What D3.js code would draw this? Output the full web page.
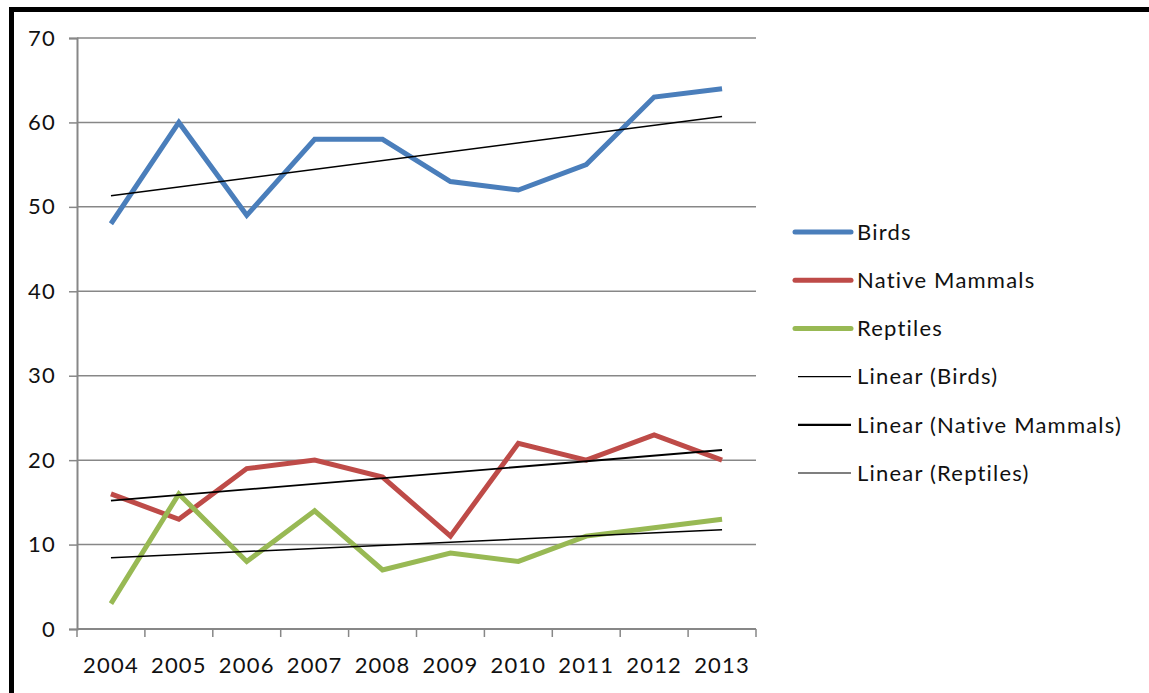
<!DOCTYPE html>
<html>
<head>
<meta charset="utf-8">
<script src="https://cdn.jsdelivr.net/npm/d3@7"></script>
<style>
  html, body { margin: 0; padding: 0; background: #fff; }
  svg { display: block; }
  text { font-family: Lato, "Open Sans", sans-serif; fill: #111; letter-spacing: 1.2px; }
</style>
</head>
<body>
<svg id="chart" width="1149" height="693"></svg>
<script>
// Yearly sightings per group
const years = ["2004", "2005", "2006", "2007", "2008", "2009", "2010", "2011", "2012", "2013"];
const birds = [48, 60, 49, 58, 58, 53, 52, 55, 63, 64];
const nativeMammals = [16, 13, 19, 20, 18, 11, 22, 20, 23, 20];
const reptiles = [3, 16, 8, 14, 7, 9, 8, 11, 12, 13];
const yTicks = [0, 10, 20, 30, 40, 50, 60, 70];

const seriesNames = ["Birds", "Native Mammals", "Reptiles"];
const seriesColors = ["#4a7ebb", "#be4b48", "#98b954"];
const seriesValues = [birds, nativeMammals, reptiles];

const svg = d3.select("#chart");
const W = 1149, H = 693;
const fontSize = 22;

// Frame edges (top and left)
svg.append("rect").attr("x", 9).attr("y", 7).attr("width", W - 9).attr("height", 5).attr("fill", "#000");
svg.append("rect").attr("x", 9).attr("y", 7).attr("width", 5).attr("height", H - 7).attr("fill", "#000");

const plot = { left: 77, right: 756, top: 38, bottom: 629 };

const x = d3.scaleBand().domain(years).range([plot.left, plot.right]).padding(0);
const y = d3.scaleLinear().domain([0, 70]).range([plot.bottom, plot.top]);
const cx = d => x(d) + x.bandwidth() / 2;

// Horizontal gridlines
svg.append("g").selectAll("line").data(yTicks.filter(t => t > 0)).join("line")
  .attr("x1", plot.left).attr("x2", plot.right)
  .attr("y1", d => y(d)).attr("y2", d => y(d))
  .attr("stroke", "#878787").attr("stroke-width", 1.5);

// Y axis
const yAxis = svg.append("g").attr("transform", `translate(${plot.left},0)`)
  .call(d3.axisLeft(y).tickValues(yTicks).tickSize(8).tickPadding(13));
yAxis.select(".domain").attr("stroke", "#878787").attr("stroke-width", 2);
yAxis.selectAll(".tick line").attr("stroke", "#878787").attr("stroke-width", 1.5);
yAxis.selectAll(".tick text").attr("font-size", fontSize).attr("font-family", "Lato, sans-serif").attr("fill", "#111");

// X axis: ticks on category boundaries
const boundaries = years.map(d => x(d)).concat([plot.right]);
const xg = svg.append("g");
xg.append("line").attr("x1", plot.left).attr("x2", plot.right)
  .attr("y1", plot.bottom).attr("y2", plot.bottom)
  .attr("stroke", "#878787").attr("stroke-width", 2);
xg.selectAll("line.tk").data(boundaries).join("line").attr("class", "tk")
  .attr("x1", d => d).attr("x2", d => d)
  .attr("y1", plot.bottom).attr("y2", plot.bottom + 8)
  .attr("stroke", "#878787").attr("stroke-width", 1.5);
xg.selectAll("text").data(years).join("text")
  .attr("x", d => cx(d)).attr("y", 673)
  .attr("text-anchor", "middle").attr("font-size", fontSize)
  .text(d => d);

// Series lines
const line = d3.line().x((d, i) => cx(years[i])).y(d => y(d));
seriesValues.forEach((vals, k) => {
  svg.append("path").datum(vals)
    .attr("d", line)
    .attr("fill", "none")
    .attr("stroke", seriesColors[k])
    .attr("stroke-width", 5)
    .attr("stroke-linejoin", "miter");
});

// Least-squares trend for each series
function fit(vals) {
  const n = vals.length;
  const mx = d3.mean(vals, (d, i) => i);
  const my = d3.mean(vals);
  let sxy = 0, sxx = 0;
  vals.forEach((v, i) => { sxy += (i - mx) * (v - my); sxx += (i - mx) * (i - mx); });
  const b = sxy / sxx, a = my - b * mx;
  return [a, a + b * (n - 1)];
}
const trendWidths = [1.5, 1.8, 1.5];
seriesValues.forEach((vals, k) => {
  const [y0, y1] = fit(vals);
  svg.append("line")
    .attr("x1", cx(years[0])).attr("x2", cx(years[years.length - 1]))
    .attr("y1", y(y0)).attr("y2", y(y1))
    .attr("stroke", "#000").attr("stroke-width", trendWidths[k]);
});

// Legend
const legendItems = [
  { label: "Birds", color: seriesColors[0], w: 5, x0: 795 },
  { label: "Native Mammals", color: seriesColors[1], w: 5, x0: 795 },
  { label: "Reptiles", color: seriesColors[2], w: 5, x0: 795 },
  { label: "Linear (Birds)", color: "#000", w: 1.2, x0: 798 },
  { label: "Linear (Native Mammals)", color: "#000", w: 2.2, x0: 798 },
  { label: "Linear (Reptiles)", color: "#000", w: 1.2, x0: 798 }
];
const lg = svg.append("g");
legendItems.forEach((it, i) => {
  const yy = 232 + i * 48.2;
  lg.append("line").attr("x1", it.x0).attr("x2", 851).attr("y1", yy).attr("y2", yy)
    .attr("stroke", it.color).attr("stroke-width", it.w).attr("stroke-linecap", it.w > 3 ? "round" : "butt");
  lg.append("text").attr("x", 857).attr("y", yy).attr("dy", "0.35em")
    .attr("font-size", fontSize).text(it.label);
});
</script>
</body>
</html>
